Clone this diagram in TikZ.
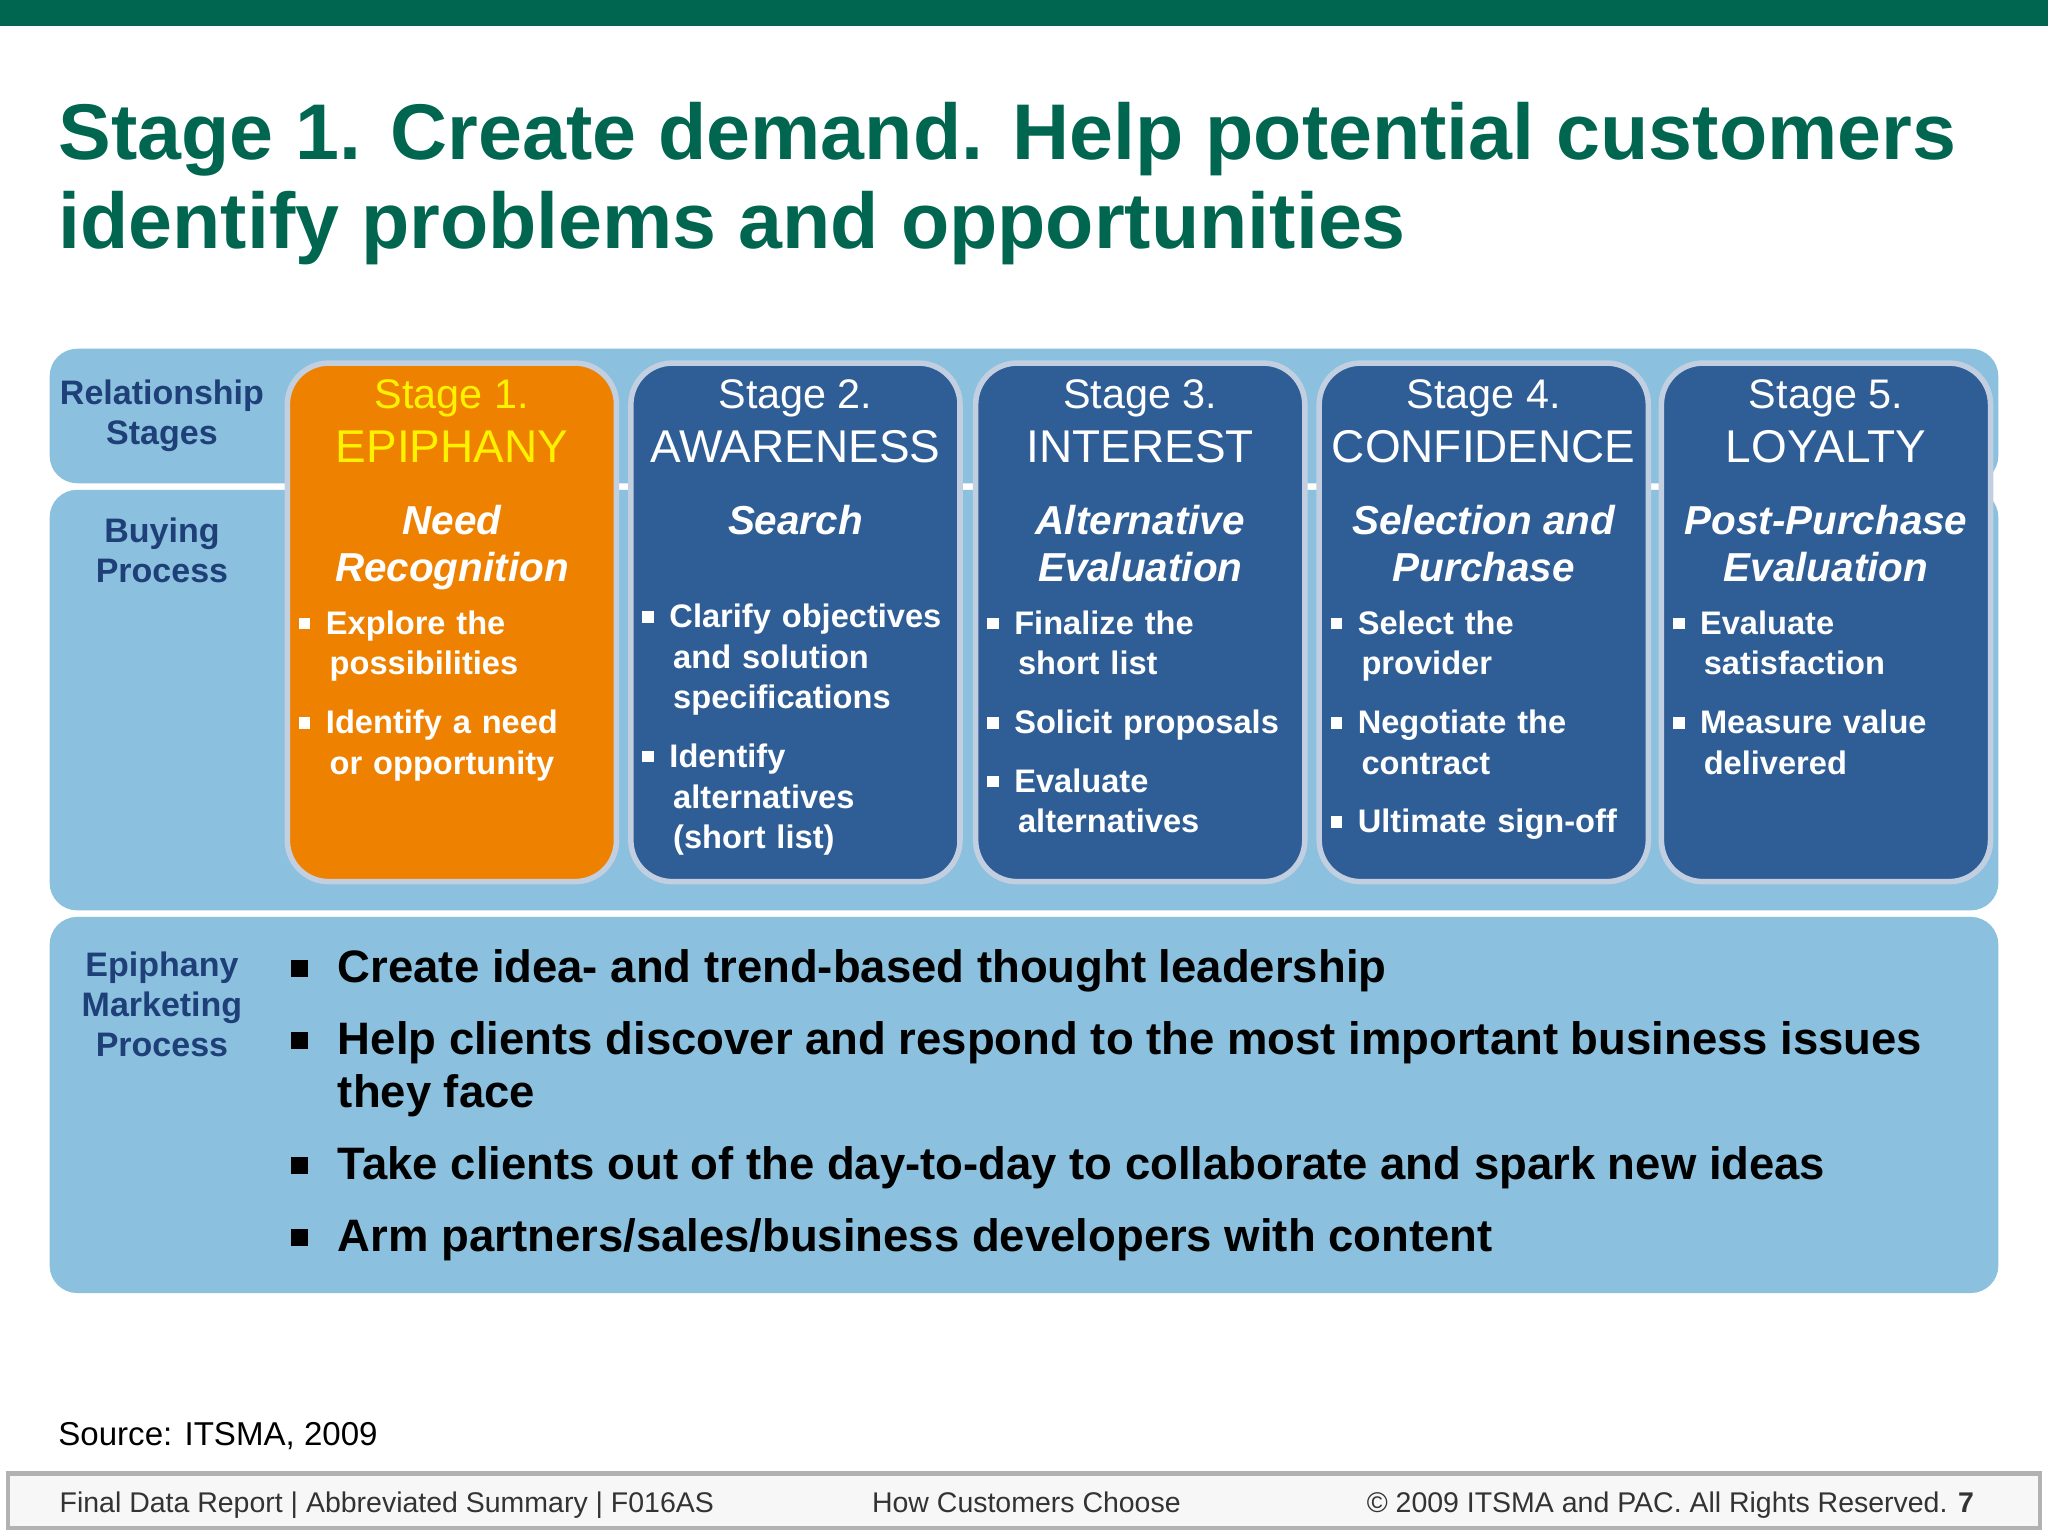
\documentclass[tikz,border=0pt]{standalone}
\usepackage{fontspec}
\setmainfont{Liberation Sans}
\newcommand{\sqb}{\raisebox{0.3ex}{\rule{0.9mm}{0.9mm}}\hspace{0.9ex}}
\newcommand{\ind}{\hspace*{1.8ex}}
\begin{document}
\begin{tikzpicture}[x=0.01cm,y=-0.01cm,
  panel/.style={fill=panelblue,rounded corners=6pt},
  stagebox/.style={fill=stageblue,draw=white!70!stageblue,line width=1.2pt,rounded corners=9pt},
  lab/.style={text=labblue,font=\bfseries\fontsize{7.4}{8.7}\selectfont,align=center},
  sttl/.style={text=white,font=\fontsize{9}{10}\selectfont,anchor=base},
  sname/.style={text=white,font=\fontsize{10}{12}\selectfont,anchor=base},
  sit/.style={text=white,font=\bfseries\itshape\fontsize{8.8}{10.4}\selectfont,anchor=north,align=center},
  bl/.style={text=white,font=\bfseries\fontsize{7.1}{8.8}\selectfont,anchor=north west,align=left,text width=2.5cm,inner sep=0},
  big/.style={font=\bfseries\fontsize{9.9}{11.6}\selectfont,anchor=base west,align=left}]
\definecolor{panelblue}{HTML}{8BC1DE}
\definecolor{stageblue}{HTML}{2F5E97}
\definecolor{orng}{HTML}{EE8100}
\definecolor{labblue}{HTML}{1F3F78}
\definecolor{grn}{HTML}{00664F}
\useasboundingbox (0,0) rectangle (1568,1176);
\fill[white] (0,0) rectangle (1568,1176);
\fill[grn] (0,0) rectangle (1568,20);
\node[anchor=base west,text=grn,font=\bfseries\fontsize{17.2}{19.5}\selectfont,inner sep=0] (title) at (44,122) {Stage 1. Create demand. Help potential customers};
\node[anchor=base west,text=grn,font=\bfseries\fontsize{17.2}{19.5}\selectfont,inner sep=0] (title2) at (44,190) {identify problems and opportunities};
\fill[panel] (38,267) rectangle (1530,370);
\fill[panel] (38,375) rectangle (1530,697);
\fill[panel] (38,702) rectangle (1530,990);
\node[lab] (rs) at (124,318) {Relationship\\Stages};
\node[lab] (bp) at (124,421) {Buying\\Process};
\node[lab] (em) at (124,769) {Epiphany\\Marketing\\Process};
% stages
\fill[stagebox,fill=orng] (220,278) rectangle (472,675);
\foreach \x/\n in {483/2,747/3,1010/4,1272/5} \fill[stagebox] (\x,278) rectangle (\x+252,675);
\node[sttl,text=yellow] (s1a) at (346,313) {Stage 1.};
\node[sname,text=yellow] (s1b) at (346,354) {EPIPHANY};
\node[sit] (s1c) at (346,374) {Need\\Recognition};
\node[bl] (s1d) at (228,467) {\sqb Explore the\\\ind possibilities\\[4pt]\sqb Identify a need\\\ind or opportunity};
\node[sttl] (s2a) at (609,313) {Stage 2.};
\node[sname] (s2b) at (609,354) {AWARENESS};
\node[sit] (s2c) at (609,374) {Search};
\node[bl] (s2d) at (491,462) {\sqb Clarify objectives\\\ind and solution\\\ind specifications\\[4pt]\sqb Identify\\\ind alternatives\\\ind (short list)};
\node[sttl] (s3a) at (873,313) {Stage 3.};
\node[sname] (s3b) at (873,354) {INTEREST};
\node[sit] (s3c) at (873,374) {Alternative\\Evaluation};
\node[bl] (s3d) at (755,467) {\sqb Finalize the\\\ind short list\\[4pt]\sqb Solicit proposals\\[4pt]\sqb Evaluate\\\ind alternatives};
\node[sttl] (s4a) at (1136,313) {Stage 4.};
\node[sname] (s4b) at (1136,354) {CONFIDENCE};
\node[sit] (s4c) at (1136,374) {Selection and\\Purchase};
\node[bl] (s4d) at (1018,467) {\sqb Select the\\\ind provider\\[4pt]\sqb Negotiate the\\\ind contract\\[4pt]\sqb Ultimate sign-off};
\node[sttl] (s5a) at (1398,313) {Stage 5.};
\node[sname] (s5b) at (1398,354) {LOYALTY};
\node[sit] (s5c) at (1398,374) {Post-Purchase\\Evaluation};
\node[bl] (s5d) at (1280,467) {\sqb Evaluate\\\ind satisfaction\\[4pt]\sqb Measure value\\\ind delivered};
% bottom bullets
\foreach \y/\t [count=\i] in {752/{Create idea- and trend-based thought leadership},807/{Help clients discover and respond to the most important business issues},903/{Take clients out of the day-to-day to collaborate and spark new ideas},958/{Arm partners/sales/business developers with content}} {
  \node[big,inner sep=0] (m\i) at (222,\y-4) {\rule{1.3mm}{1.3mm}};
  \node[big,inner sep=0] (t\i) at (258,\y) {\t};
}
\node[big,inner sep=0] (t2b) at (258,848) {they face};
\node[anchor=base west,font=\fontsize{7.2}{8}\selectfont,inner sep=0] (src) at (44,1107) {Source: ITSMA, 2009};
\draw[gray!60,line width=1pt,fill=gray!6] (6,1128) rectangle (1562,1170);
\node[anchor=base west,font=\fontsize{6.2}{7}\selectfont,text=black!80,inner sep=0] (f1) at (45,1158) {Final Data Report | Abbreviated Summary | F016AS};
\node[anchor=base west,font=\fontsize{6.2}{7}\selectfont,text=black!80,inner sep=0] (f2) at (667,1158) {How Customers Choose};
\node[anchor=base east,font=\fontsize{6.2}{7}\selectfont,text=black!80,inner sep=0] (f3) at (1512,1158) {© 2009 ITSMA and PAC. All Rights Reserved. \textbf{7}};
\end{tikzpicture}
\end{document}
